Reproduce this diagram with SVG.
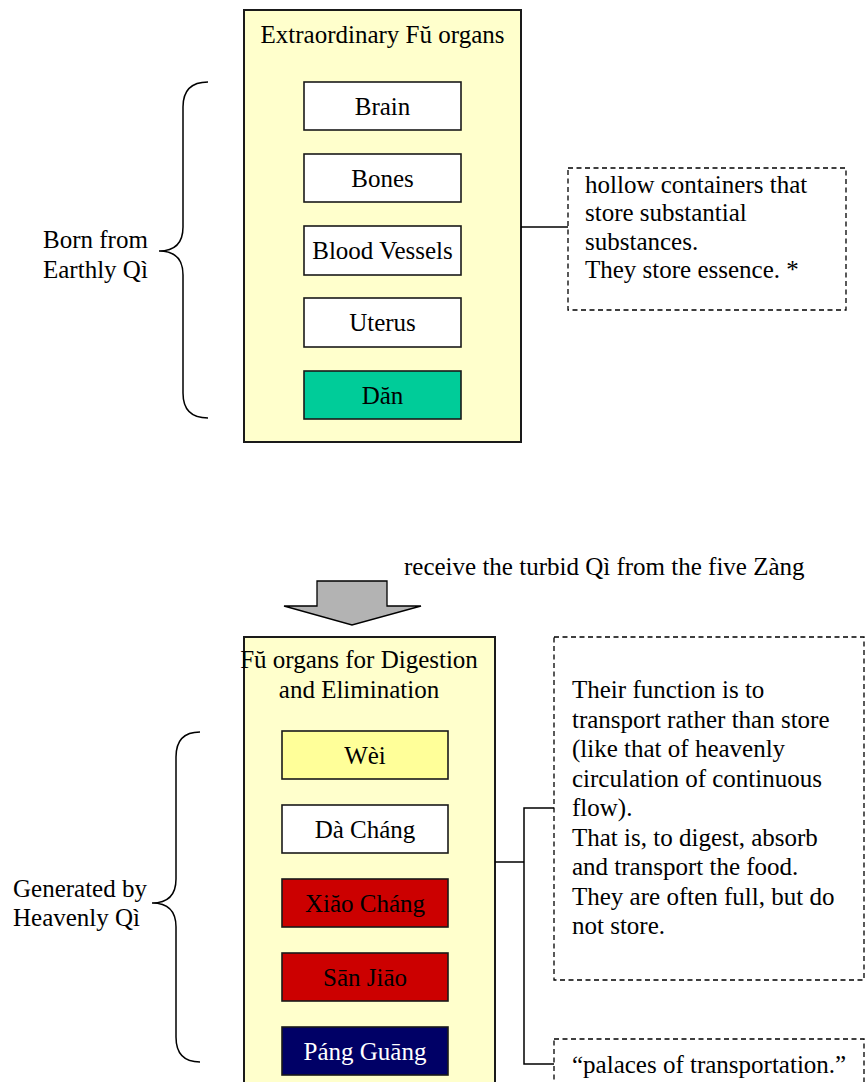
<svg xmlns="http://www.w3.org/2000/svg" width="866" height="1082" viewBox="0 0 866 1082">
<style>
text{font-family:"Liberation Serif","Times New Roman",serif;font-size:25px;fill:#000}
.c{text-anchor:middle}
.panel{fill:#FFFFCC;stroke:#1a1a1a;stroke-width:2}
.box{stroke:#1a1a1a;stroke-width:1.6}
.note{fill:#fff;stroke:#000;stroke-width:1.3;stroke-dasharray:5 3.5}
.ln{fill:none;stroke:#000;stroke-width:1.5}
</style>
<rect width="866" height="1082" fill="#fff"/>
<g id="top-panel">
<rect class="panel" x="244" y="10" width="277" height="432"/>
<text class="c" x="382.5" y="43">Extraordinary Fŭ organs</text>
</g>
<g id="brain"><rect class="box" x="304" y="82" width="157" height="48" fill="#fff"/><text class="c" x="382.5" y="115">Brain</text></g>
<g id="bones"><rect class="box" x="304" y="154" width="157" height="48" fill="#fff"/><text class="c" x="382.5" y="187">Bones</text></g>
<g id="blood-vessels"><rect class="box" x="304" y="226" width="157" height="49" fill="#fff"/><text class="c" x="382.5" y="259">Blood Vessels</text></g>
<g id="uterus"><rect class="box" x="304" y="298" width="157" height="49" fill="#fff"/><text class="c" x="382.5" y="331">Uterus</text></g>
<g id="dan"><rect class="box" x="304" y="371" width="157" height="48" fill="#00CC99"/><text class="c" x="382.5" y="404">Dăn</text></g>
<g id="brace-top">
<path class="ln" d="M208,82 Q183,82 183,107 L183,227 Q183,251 159,251 Q183,251 183,275 L183,393 Q183,418 208,418"/>
<text x="43" y="248">Born from</text>
<text x="43" y="278">Earthly Qì</text>
</g>
<g id="note-top">
<rect class="note" x="568" y="168" width="278" height="142"/>
<text x="585" y="193">hollow containers that</text>
<text x="585" y="221">store substantial</text>
<text x="585" y="249.5">substances.</text>
<text x="585" y="277.5">They store essence. *</text>
</g>
<g id="arrow">
<path d="M317,581 L387,581 L387,606 L421,606 L352,625 L284,606 L317,606 Z" fill="#B3B3B3" stroke="#000" stroke-width="1.3" stroke-linejoin="miter"/>
<text x="404" y="575">receive the turbid Qì from the five Zàng</text>
</g>
<g id="bottom-panel">
<rect class="panel" x="244" y="637" width="251" height="460"/>
<text class="c" x="359" y="668">Fŭ organs for Digestion</text>
<text class="c" x="359" y="698">and Elimination</text>
</g>
<g id="wei"><rect class="box" x="282" y="731" width="166" height="48" fill="#FFFF99"/><text class="c" x="365" y="764">Wèi</text></g>
<g id="da-chang"><rect class="box" x="282" y="805" width="166" height="48" fill="#fff"/><text class="c" x="365" y="838">Dà Cháng</text></g>
<g id="xiao-chang"><rect class="box" x="282" y="879" width="166" height="48" fill="#CC0000"/><text class="c" x="365" y="912">Xiăo Cháng</text></g>
<g id="san-jiao"><rect class="box" x="282" y="953" width="166" height="48" fill="#CC0000"/><text class="c" x="365" y="986">Sān Jiāo</text></g>
<g id="pang-guang"><rect class="box" x="282" y="1027" width="166" height="48" fill="#000066"/><text class="c" x="365" y="1060" style="fill:#fff">Páng Guāng</text></g>
<g id="brace-bottom">
<path class="ln" d="M200,732 Q176,732 176,757 L176,879 Q176,903 152,903 Q176,903 176,927 L176,1037 Q176,1062 200,1062"/>
<text x="13" y="897">Generated by</text>
<text x="13" y="926">Heavenly Qì</text>
</g>
<g id="note-function">
<rect class="note" x="554" y="637" width="310" height="343"/>
<text x="572" y="698">Their function is to</text>
<text x="572" y="727.5">transport rather than store</text>
<text x="572" y="757">(like that of heavenly</text>
<text x="572" y="786.5">circulation of continuous</text>
<text x="572" y="816">flow).</text>
<text x="572" y="845.5">That is, to digest, absorb</text>
<text x="572" y="875">and transport the food.</text>
<text x="572" y="904.5">They are often full, but do</text>
<text x="572" y="934">not store.</text>
</g>
<g id="note-palaces">
<rect class="note" x="554" y="1039" width="310" height="80"/>
<text x="572" y="1073">“palaces of transportation.”</text>
</g>
<g id="connectors">
<path class="ln" d="M521,227 L568,227"/>
<path class="ln" d="M495,862 L524,862 M554,808 L524,808 L524,1064 L554,1064"/>
</g>
</svg>
